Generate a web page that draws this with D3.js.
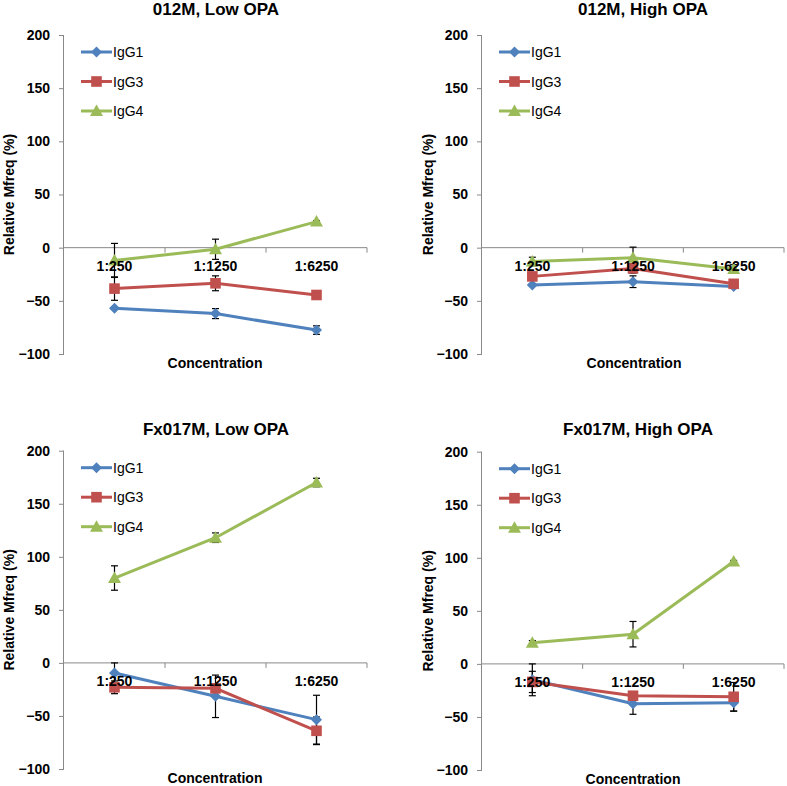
<!DOCTYPE html>
<html><head><meta charset="utf-8">
<script src="https://cdn.jsdelivr.net/npm/d3@7/dist/d3.min.js"></script>
<style>body{margin:0;background:#fff}svg{display:block}</style>
</head><body>
<svg id="c" width="787" height="786"></svg>
<script>
const categories = ["1:250", "1:1250", "1:6250"];
const seriesNames = ["IgG1", "IgG3", "IgG4"];
const yTicks = [-100, -50, 0, 50, 100, 150, 200];
const titles = ["012M, Low OPA", "012M, High OPA", "Fx017M, Low OPA", "Fx017M, High OPA"];

// values per panel (IgG1, IgG3, IgG4) and error (± half width)
const p1_IgG1 = [-57, -62, -77.5], p1_IgG1_err = [1, 4.7, 4];
const p1_IgG3 = [-38.5, -33.5, -44.5], p1_IgG3_err = [11, 7, 1];
const p1_IgG4 = [-12, -1.5, 24.5], p1_IgG4_err = [16, 9.5, 1];

const p2_IgG1 = [-35, -32, -36.5], p2_IgG1_err = [1, 5.5, 1];
const p2_IgG3 = [-27, -19.5, -34], p2_IgG3_err = [1, 4.5, 1];
const p2_IgG4 = [-13, -9.5, -20], p2_IgG4_err = [4, 10, 4];

const p3_IgG1 = [-9.5, -31.5, -53.5], p3_IgG1_err = [9.5, 20, 23];
const p3_IgG3 = [-23, -24, -64], p3_IgG3_err = [6, 1, 13];
const p3_IgG4 = [80, 118, 170], p3_IgG4_err = [11.5, 4.5, 4];

const p4_IgG1 = [-15, -37.5, -36.5], p4_IgG1_err = [15, 10, 8];
const p4_IgG3 = [-17, -30, -31], p4_IgG3_err = [10, 1, 13.5];
const p4_IgG4 = [20, 28, 96.5], p4_IgG4_err = [2, 12, 1];

const panelData = [
  [[p1_IgG1, p1_IgG1_err], [p1_IgG3, p1_IgG3_err], [p1_IgG4, p1_IgG4_err]],
  [[p2_IgG1, p2_IgG1_err], [p2_IgG3, p2_IgG3_err], [p2_IgG4, p2_IgG4_err]],
  [[p3_IgG1, p3_IgG1_err], [p3_IgG3, p3_IgG3_err], [p3_IgG4, p3_IgG4_err]],
  [[p4_IgG1, p4_IgG1_err], [p4_IgG3, p4_IgG3_err], [p4_IgG4, p4_IgG4_err]]
];

const colors = ["#4F81BD", "#C0504D", "#9BBB59"];
const layout = [
  {l: 64, r: 367, t: 35, b: 354, tx: 216, ty: 15, yl: 14, cx: 215, cy: 368},
  {l: 482, r: 784, t: 35, b: 354, tx: 643, ty: 15, yl: 433, cx: 634, cy: 368},
  {l: 64, r: 367, t: 450.7, b: 769, tx: 216, ty: 435, yl: 14, cx: 215, cy: 783},
  {l: 482, r: 784, t: 451.7, b: 770, tx: 638, ty: 435, yl: 433, cx: 633, cy: 784}
];

const svg = d3.select("#c");
const FONT = "'Liberation Sans', Arial, sans-serif";
const axisCol = "#898989";

function marker(g, type, x, y, color) {
  if (type === 0) {
    g.append("path").attr("d", `M${x},${y-5.5}L${x+5.5},${y}L${x},${y+5.5}L${x-5.5},${y}Z`).attr("fill", color);
  } else if (type === 1) {
    g.append("rect").attr("x", x-5.3).attr("y", y-5.3).attr("width", 10.6).attr("height", 10.6).attr("fill", color);
  } else {
    g.append("path").attr("d", `M${x},${y-6.5}L${x+6.5},${y+5}L${x-6.5},${y+5}Z`).attr("fill", color);
  }
}

layout.forEach((L, pi) => {
  const g = svg.append("g");
  const y = d3.scaleLinear().domain([-100, 200]).range([L.b, L.t]);
  const x = d3.scaleBand().domain(categories).range([L.l, L.r]);
  const cxp = c => x(c) + x.bandwidth() / 2;

  // y axis
  const ya = g.append("g").attr("transform", `translate(${L.l},0)`)
    .call(d3.axisLeft(y).tickValues(yTicks).tickSize(5).tickPadding(9).tickFormat(d3.format("d")));
  ya.select(".domain").attr("stroke", axisCol).attr("d", `M-0.5,${L.t}V${L.b}`);
  ya.selectAll(".tick line").attr("stroke", axisCol);
  ya.selectAll("text").attr("font-family", FONT).attr("font-size", 14).attr("font-weight", "bold").attr("fill", "#000");

  // x axis at zero
  const y0 = y(0);
  g.append("line").attr("x1", L.l).attr("x2", L.r).attr("y1", y0).attr("y2", y0).attr("stroke", axisCol);
  categories.forEach(c => {
    const xe = x(c) + x.bandwidth();
    g.append("line").attr("x1", xe).attr("x2", xe).attr("y1", y0).attr("y2", y0 + 5).attr("stroke", axisCol);
  });

  // series lines
  panelData[pi].forEach(([vals, errs], si) => {
    const pts = categories.map((c, i) => [cxp(c), y(vals[i])]);
    g.append("path").attr("d", d3.line()(pts)).attr("fill", "none").attr("stroke", colors[si]).attr("stroke-width", 3);
  });

  // error bars
  panelData[pi].forEach(([vals, errs], si) => {
    categories.forEach((c, i) => {
      const xc = cxp(c), ya1 = y(vals[i] + errs[i]), ya2 = y(vals[i] - errs[i]);
      g.append("line").attr("x1", xc).attr("x2", xc).attr("y1", ya1).attr("y2", ya2).attr("stroke", "#000").attr("stroke-width", 1.2);
      [ya1, ya2].forEach(yy => g.append("line").attr("x1", xc - 3.5).attr("x2", xc + 3.5).attr("y1", yy).attr("y2", yy).attr("stroke", "#000").attr("stroke-width", 1.2));
    });
  });

  // markers
  panelData[pi].forEach(([vals, errs], si) => {
    categories.forEach((c, i) => marker(g, si, cxp(c), y(vals[i]), colors[si]));
  });

  // category labels
  categories.forEach(c => {
    g.append("text").attr("x", cxp(c)).attr("y", y0 + 23).attr("text-anchor", "middle")
      .attr("font-family", FONT).attr("font-size", 14).attr("font-weight", "bold").text(c);
  });

  // legend
  seriesNames.forEach((n, si) => {
    const lx = L.l + 17, ly = L.t + 17 + si * 29.5;
    g.append("line").attr("x1", lx).attr("x2", lx + 31).attr("y1", ly).attr("y2", ly).attr("stroke", colors[si]).attr("stroke-width", 3);
    marker(g, si, lx + 15.5, ly, colors[si]);
    g.append("text").attr("x", lx + 32).attr("y", ly + 5).attr("font-family", FONT).attr("font-size", 14).attr("fill", "#000").text(n);
  });

  // titles
  g.append("text").attr("x", L.tx).attr("y", L.ty).attr("text-anchor", "middle")
    .attr("font-family", FONT).attr("font-size", 17).attr("font-weight", "bold").text(titles[pi]);
  g.append("text").attr("x", L.cx).attr("y", L.cy).attr("text-anchor", "middle")
    .attr("font-family", FONT).attr("font-size", 14).attr("font-weight", "bold").text("Concentration");
  g.append("text").attr("transform", `translate(${L.yl},${(L.t + L.b) / 2}) rotate(-90)`).attr("text-anchor", "middle")
    .attr("font-family", FONT).attr("font-size", 14).attr("font-weight", "bold").text("Relative Mfreq (%)");
});
</script>
</body></html>
